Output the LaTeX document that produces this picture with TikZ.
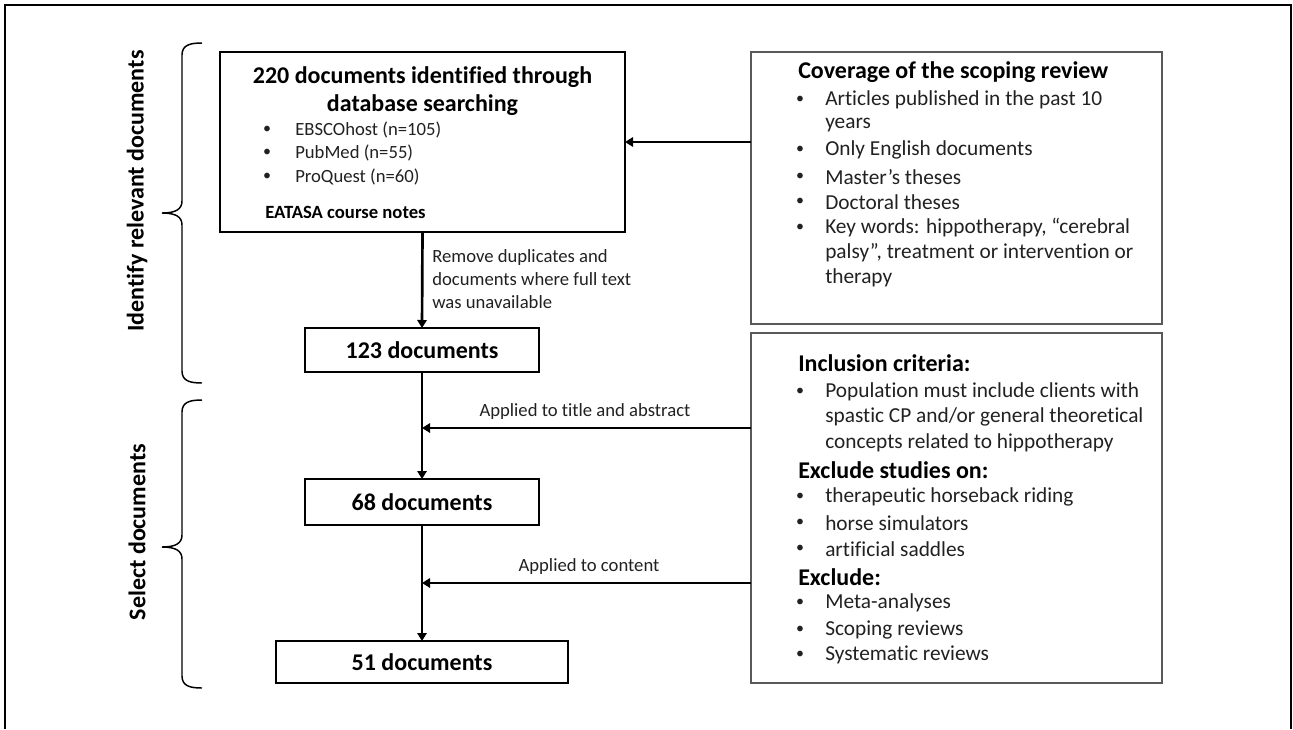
\documentclass[tikz,border=0pt]{standalone}
\usepackage{fontspec}
\setmainfont{Carlito}[RawFeature={-liga;-clig;-dlig}]
\usetikzlibrary{arrows.meta}
\definecolor{txt}{gray}{0.13}
\definecolor{edge}{gray}{0.35}
\begin{document}
\begin{tikzpicture}[x=0.75pt,y=-0.75pt,
  box/.style={draw=black, line width=0.8pt, inner sep=0pt, outer sep=0pt},
  rbox/.style={draw=edge, line width=0.9pt, inner sep=0pt, outer sep=0pt},
  head/.style={font=\bfseries\fontsize{18pt}{21pt}\selectfont, text=black, inner sep=0pt},
  sub/.style={font=\bfseries\fontsize{14pt}{17pt}\selectfont, text=black, inner sep=0pt, anchor=west},
  rtext/.style={font=\fontsize{16pt}{19pt}\selectfont, text=txt, anchor=west, inner sep=0pt},
  ltext/.style={font=\fontsize{14pt}{17.25pt}\selectfont, text=txt, inner sep=0pt},
  dot/.style={font=\fontsize{12pt}{14pt}\selectfont, text=txt, inner sep=0pt},
  flow/.style={line width=2pt, -{Triangle[length=6pt,width=7pt]}},
  brace/.style={line width=1.1pt, black},
]
\useasboundingbox (0,0) rectangle (1293,729);

% outer frame (open at the bottom)
\draw[line width=1.5pt] (5,729) -- (5,5) -- (1291,5) -- (1291,729);

% phase braces
\draw[brace] (202,43) .. controls (190,43) and (182,45) .. (182,55) -- (182,201)
  .. controls (182,209) and (176,213) .. (162,213)
  .. controls (176,213) and (182,217) .. (182,225) -- (182,371)
  .. controls (182,381) and (190,383) .. (202,383);
\draw[brace] (202,400) .. controls (190,400) and (182,402) .. (182,412) -- (182,535)
  .. controls (182,543) and (176,547) .. (162,547)
  .. controls (176,547) and (182,551) .. (182,559) -- (182,676)
  .. controls (182,686) and (190,688) .. (202,688);

% phase labels
\node[head, rotate=90] (ph1) at (137,191) {Identify relevant documents};
\node[head, rotate=90] (ph2) at (137,532) {Select documents};

% main flow boxes
\node[box, minimum width=303.75pt, minimum height=135pt] (b1) at (422.5,142) {};
\node[box, minimum width=175.5pt, minimum height=33pt, head] (b2) at (422,350) {123 documents};
\node[box, minimum width=175.5pt, minimum height=34.5pt, head] (b3) at (422,502) {68 documents};
\node[box, minimum width=219pt, minimum height=31.5pt, head] (b4) at (422,662) {51 documents};

% contents of the search box
\node[head, align=center] (b1t) at (422.5,91) {220 documents identified through\\database searching};
\foreach \yy/\lbl in {130/{EBSCOhost (n=105)}, 153/{PubMed (n=55)}, 177/{ProQuest (n=60)}}{
  \node[dot] (b1d\yy) at (267,\yy) {\textbullet};
  \node[ltext, anchor=west] (b1l\yy) at (295,\yy) {\lbl};
}
\node[sub] (b1n) at (265,212) {EATASA course notes};

% side boxes
\node[rbox, minimum width=308.25pt, minimum height=204pt] (cov) at (956.5,188) {};
\node[rbox, minimum width=308.25pt, minimum height=262.5pt] (inc) at (956.5,508) {};

\node[head, anchor=west] (covh) at (798,72) {Coverage of the scoping review};
\foreach \yy in {100,150,177,202,228}{
  \node[dot] (cvd\yy) at (800,\yy) {\textbullet};
}
\foreach \yy/\lbl in {100/{Articles published in the past 10}, 125/{years},
  150/{Only English documents}, 177/{Master’s theses}, 202/{Doctoral theses},
  228/{Key words: hippotherapy, “cerebral}, 253/{palsy”, treatment or intervention or},
  278/{therapy}}{
  \node[rtext] (cvl\yy) at (825,\yy) {\lbl};
}

\node[head, anchor=west] (inh1) at (798,363) {Inclusion criteria:};
\node[head, anchor=west] (inh2) at (798,470) {Exclude studies on:};
\node[head, anchor=west] (inh3) at (798,577) {Exclude:};
\foreach \yy in {392,497,523,549,603,630,655}{
  \node[dot] (ind\yy) at (800,\yy) {\textbullet};
}
\foreach \yy/\lbl in {392/{Population must include clients with},
  417/{spastic CP and/or general theoretical}, 443/{concepts related to hippotherapy},
  497/{therapeutic horseback riding}, 523/{horse simulators}, 549/{artificial saddles},
  603/{Meta-analyses}, 630/{Scoping reviews}, 655/{Systematic reviews}}{
  \node[rtext] (inl\yy) at (825,\yy) {\lbl};
}

% vertical flow
\draw[flow] (b1.south) -- (b2.north);
\draw[flow] (b2.south) -- (b3.north);
\draw[flow] (b3.south) -- (b4.north);

% criteria feeding into the flow
\coordinate (covout) at ([yshift=-67.5pt]cov.north west);
\coordinate (incout1) at ([yshift=-71.25pt]inc.north west);
\coordinate (incout2) at ([yshift=-187.5pt]inc.north west);
\draw[flow] (covout) -- (covout -| b1.east);
\draw[flow] (incout1) -- (incout1 -| b2.south);
\draw[flow] (incout2) -- (incout2 -| b3.south);

% connector labels
\node[ltext, align=left, anchor=west] (lab1) at (432,279) {Remove duplicates and\\documents where full text\\was unavailable};
\node[ltext] (lab2) at (585,412) {Applied to title and abstract};
\node[ltext] (lab3) at (589,567) {Applied to content};
\end{tikzpicture}
\end{document}
